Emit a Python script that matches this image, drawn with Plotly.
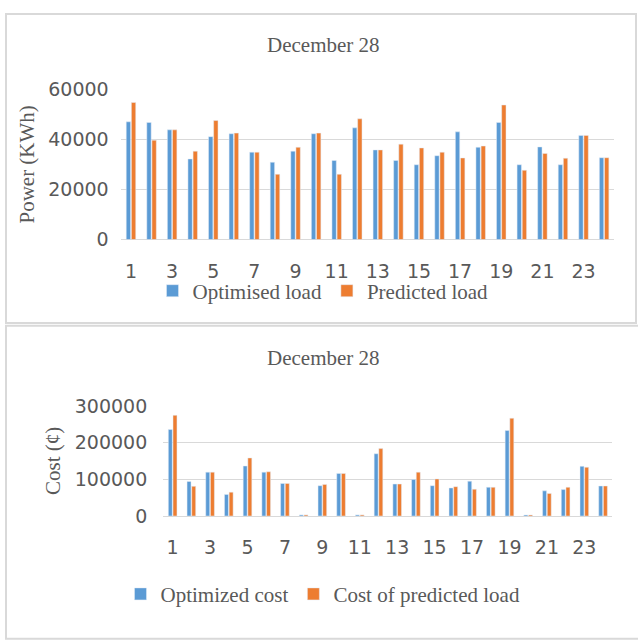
import plotly.graph_objects as go

hours = list(range(1, 25))
tick_vals = list(range(1, 24, 2))
tick_text = [str(v) for v in tick_vals]

optimised_load = [46900, 46650, 43700, 32100, 41000, 42150, 34800, 30800, 35200, 42150, 31500, 44500,
                  35700, 31500, 29800, 33400, 42900, 36750, 46650, 29800, 36900, 29800, 41500, 32600]
predicted_load = [54600, 39580, 43700, 35200, 47400, 42400, 34800, 26000, 36750, 42400, 26000, 48100,
                  35700, 38000, 36500, 34800, 32500, 37250, 53600, 27600, 34300, 32400, 41500, 32600]

optimized_cost = [235700, 94100, 119600, 58900, 136300, 119600, 88800, 3000, 82700, 116100, 3000, 169700,
                  87100, 99400, 82700, 76500, 95000, 78300, 233000, 3000, 68600, 72100, 135400, 81800]
predicted_cost = [274400, 80900, 119600, 65100, 158300, 120500, 88800, 3000, 86200, 116100, 3000, 183800,
                  87100, 119600, 101100, 80000, 73000, 78300, 266500, 3000, 61600, 78300, 132800, 81800]

BLUE = "#5B9BD5"
ORANGE = "#ED7D31"
GRID = "#d9d9d9"
TXT = "#595959"
W, H = 638, 640

def px(x):
    return x / W

def py(y):
    return 1 - y / H

fig = go.Figure()
fig.add_trace(go.Bar(x=hours, y=optimised_load, name="Optimised load", marker_color=BLUE,
                     xaxis="x", yaxis="y", legend="legend"))
fig.add_trace(go.Bar(x=hours, y=predicted_load, name="Predicted load", marker_color=ORANGE,
                     xaxis="x", yaxis="y", legend="legend"))
fig.add_trace(go.Bar(x=hours, y=optimized_cost, name="Optimized cost", marker_color=BLUE,
                     xaxis="x2", yaxis="y2", legend="legend2"))
fig.add_trace(go.Bar(x=hours, y=predicted_cost, name="Cost of predicted load", marker_color=ORANGE,
                     xaxis="x2", yaxis="y2", legend="legend2"))

tickfont = dict(family="DejaVu Sans", size=19, color=TXT)
serif = "Liberation Serif"

xcommon = dict(range=[0.5, 24.5], tickvals=tick_vals, ticktext=tick_text, tickfont=tickfont,
               showgrid=False, showline=False, zeroline=False, ticks="", ticklabelstandoff=18,
               fixedrange=True)
ycommon = dict(showgrid=True, gridcolor=GRID, gridwidth=1.4, zeroline=True, zerolinecolor=GRID,
               zerolinewidth=1.4, tickfont=tickfont, ticks="", showline=False, fixedrange=True)

fig.update_layout(
    width=W, height=H,
    margin=dict(l=0, r=0, t=0, b=0),
    paper_bgcolor="white", plot_bgcolor="white",
    barmode="group", bargap=0.5, bargroupgap=0.15,
    xaxis=dict(domain=[px(120.7), px(614.4)], anchor="y", **xcommon),
    yaxis=dict(domain=[py(236.7), py(80.7)], anchor="x", range=[0, 60000],
               tickvals=[0, 20000, 40000, 60000], ticktext=["0", "20000", "40000", "60000"],
               ticklabelstandoff=11, **ycommon),
    xaxis2=dict(domain=[px(163.3), px(612.4)], anchor="y2", **xcommon),
    yaxis2=dict(domain=[py(523), py(409)], anchor="x2", range=[0, 300000],
                tickvals=[0, 100000, 200000, 300000], ticktext=["0", "100000", "200000", "300000"],
                ticklabelstandoff=15, **ycommon),
    legend=dict(orientation="h", x=px(323), xanchor="center", y=py(290), yanchor="middle",
                font=dict(family=serif, size=21, color=TXT), bgcolor="rgba(0,0,0,0)"),
    legend2=dict(orientation="h", x=px(323), xanchor="center", y=py(604), yanchor="middle",
                 font=dict(family=serif, size=21, color=TXT), bgcolor="rgba(0,0,0,0)"),
    showlegend=True,
)

annos = [
    dict(text="December 28", x=px(323), y=py(35), xref="paper", yref="paper",
         xanchor="center", yanchor="middle", showarrow=False,
         font=dict(family=serif, size=21, color=TXT)),
    dict(text="December 28", x=px(323), y=py(359), xref="paper", yref="paper",
         xanchor="center", yanchor="middle", showarrow=False,
         font=dict(family=serif, size=21, color=TXT)),
    dict(text="Power (KWh)", x=px(27), y=py(159), xref="paper", yref="paper", textangle=-90,
         xanchor="center", yanchor="middle", showarrow=False,
         font=dict(family=serif, size=21, color=TXT)),
    dict(text="Cost (¢)", x=px(53), y=py(466), xref="paper", yref="paper", textangle=-90,
         xanchor="center", yanchor="middle", showarrow=False,
         font=dict(family=serif, size=21, color=TXT)),
]
fig.update_layout(annotations=annos)

shapes = [
    dict(type="rect", xref="paper", yref="paper", x0=px(6), x1=px(636), y0=py(323), y1=py(3),
         line=dict(color=GRID, width=2), fillcolor="rgba(0,0,0,0)", layer="below"),
    dict(type="rect", xref="paper", yref="paper", x0=px(6), x1=px(645), y0=py(650), y1=py(326),
         line=dict(color=GRID, width=2), fillcolor="rgba(0,0,0,0)", layer="below"),
]
fig.update_layout(shapes=shapes)

post = (
    "var d=document.documentElement,b=document.body;"
    "d.style.margin='0';d.style.padding='0';d.style.overflow='hidden';"
    "b.style.margin='0';b.style.padding='0';b.style.overflow='hidden';"
)
fig.write_html("out.html", post_script=post, config={"displayModeBar": False})
